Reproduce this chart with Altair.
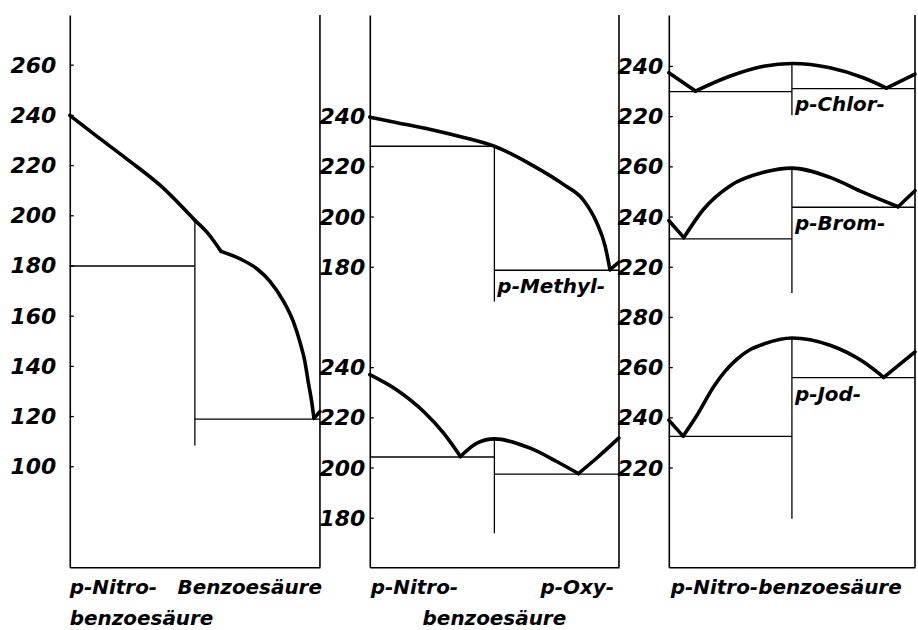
import altair as alt
import pandas as pd

# ---------------- values ----------------
# composition axis: 0 = p-Nitrobenzoesäure, 100 = second component; compound at 50
# Panel 1: p-Nitrobenzoesäure – Benzoesäure
benz_x = [0, 9.7, 23, 36.3, 50, 54.9, 60.5, 68.1, 74.8, 80.1, 85.4, 89.4, 92, 94, 95.3, 96.7, 97.6, 100]
benz_t = [240, 232.5, 222.5, 212, 198.2, 193.4, 185.8, 182.8, 178.9, 173.8, 166, 157.7, 149.7, 141.8, 133.9, 125.9, 119.3, 122]
benz_breaks = [50, 60.5, 97.6]
benz_levels = [180, 119]
benz_vertical = [198.2, 108.5]
benz_ticks = [100, 120, 140, 160, 180, 200, 220, 240, 260]

# Panel 2 top: p-Methyl-benzoesäure
methyl_x = [0, 11, 24.4, 37.7, 50, 64.4, 77.7, 85.7, 91, 94.4, 96.4, 100]
methyl_t = [239.8, 237.6, 234.9, 231.7, 228.2, 221.1, 213.0, 206.8, 197.9, 188.6, 179, 182]
methyl_breaks = [96.4]
methyl_levels = [228.2, 178.8]
methyl_vertical = [228.2, 166.3]
methyl_ticks = [180, 200, 220, 240]

# Panel 2 bottom: p-Oxy-benzoesäure
oxy_x = [0, 11, 21.7, 29.7, 36.4, 43, 50, 64.4, 75, 83.7, 91, 100]
oxy_t = [237.2, 231, 222.4, 213.8, 204.6, 209.9, 211.6, 207.9, 202.6, 197.8, 203.9, 212]
oxy_breaks = [36.4, 83.7]
oxy_levels = [204.4, 197.6]
oxy_vertical = [211.6, 174]
oxy_ticks = [180, 200, 220, 240]

# Panel 3: p-Chlor-, p-Brom-, p-Jod-benzoesäure
chlor_x = [0, 10.8, 25, 38.5, 50, 65.5, 79, 88.4, 100]
chlor_t = [237.5, 230.2, 236.2, 240.1, 241.2, 239.5, 235.5, 231.4, 236.9]
chlor_breaks = [10.8, 88.4]
chlor_levels = [230, 231.2]
chlor_vertical = [241.2, 220.6]
chlor_ticks = [220, 240]

brom_x = [0, 6.1, 14.2, 25, 38.5, 50, 65.5, 79, 93.1, 100]
brom_t = [238.6, 231.8, 243.2, 252.5, 257.8, 259.5, 255.8, 249.8, 244.1, 250.5]
brom_breaks = [6.1, 93.1]
brom_levels = [231.3, 243.9]
brom_vertical = [259.5, 209.7]
brom_ticks = [220, 240, 260]

jod_x = [0, 5.8, 11.5, 18.2, 22.9, 27.7, 33.1, 38.5, 50, 65.5, 79, 87.3, 100]
jod_t = [239.1, 232.7, 241.1, 252.4, 258.6, 263.4, 267.2, 269.4, 271.8, 268.9, 262.3, 256.1, 266.3]
jod_breaks = [5.8, 87.3]
jod_levels = [232.6, 256]
jod_vertical = [271.8, 199.8]
jod_ticks = [220, 240, 260, 280]

sub_names = {"methyl": "p-Methyl-", "chlor": "p-Chlor-", "brom": "p-Brom-", "jod": "p-Jod-"}

col1_labels = ["p-Nitro-", "benzoesäure", "Benzoesäure"]
col2_labels = ["p-Nitro-", "p-Oxy-", "benzoesäure"]
col3_labels = ["p-Nitro-benzoesäure"]

# ---------------- building ----------------
FONT = "DejaVu Sans"
H = 554
COMPOUND = 50


def system(name, xs, ts, breaks, levels, vertical, ticks, offset):
    return dict(name=name, x=xs, t=ts, breaks=breaks, levels=levels,
                vertical=vertical, ticks=ticks, offset=offset)


def curve_rows(s):
    rows = []
    for x, t in zip(s["x"], s["t"]):
        k = sum(1 for b in s["breaks"] if b < x)
        rows.append({"branch": f"{s['name']}-{k}", "x": x, "g": t + s["offset"]})
        if x in s["breaks"]:
            rows.append({"branch": f"{s['name']}-{k + 1}", "x": x, "g": t + s["offset"]})
    return rows


def segment_rows(s):
    o = s["offset"]
    lv, vt = s["levels"], s["vertical"]
    return [
        {"x": 0, "x2": COMPOUND, "g": lv[0] + o, "g2": lv[0] + o},
        {"x": COMPOUND, "x2": 100, "g": lv[1] + o, "g2": lv[1] + o},
        {"x": COMPOUND, "x2": COMPOUND, "g": vt[0] + o, "g2": vt[1] + o},
    ]


def label_expr(systems):
    parts = sorted(((min(s["ticks"]) + s["offset"] - 10, s["offset"])
                    for s in systems if s["offset"] > 0), reverse=False)
    expr = "format(datum.value, 'd')"
    for thr, off in parts:
        expr = f"datum.value > {thr} ? format(datum.value - {off}, 'd') : ({expr})"
    return expr


def column(systems, width, domain, label_pad, labels):
    curves = pd.DataFrame([r for s in systems for r in curve_rows(s)])
    segs = pd.DataFrame([r for s in systems for r in segment_rows(s)])
    ticks = pd.DataFrame({"g": [v + s["offset"] for s in systems for v in s["ticks"]]})

    xs = alt.X("x:Q", scale=alt.Scale(domain=[0, 100], nice=False, zero=False),
               axis=alt.Axis(labels=False, ticks=False, grid=False, title=None,
                             domainColor="black", domainWidth=1.6))
    ys = alt.Y("g:Q", scale=alt.Scale(domain=domain, nice=False, zero=False),
               axis=alt.Axis(values=list(ticks["g"]), labelExpr=label_expr(systems),
                             ticks=False, grid=False, title=None,
                             domainColor="black", domainWidth=1.6,
                             labelFont=FONT, labelFontSize=22, labelFontStyle="italic",
                             labelFontWeight="bold", labelColor="black",
                             labelPadding=label_pad, labelFlush=False, labelOverlap=False,
                             labelBound=False))

    layers = [
        alt.Chart(curves).mark_line(color="black", strokeWidth=3.6, interpolate="monotone",
                                    strokeCap="round", strokeJoin="round")
        .encode(x=xs, y=ys, detail="branch:N"),
        alt.Chart(segs).mark_rule(color="black", strokeWidth=1.3)
        .encode(x=xs, x2="x2:Q", y=ys, y2="g2:Q"),
        alt.Chart(ticks).mark_rule(color="black", strokeWidth=1.3)
        .encode(y=ys, x=alt.value(0), x2=alt.value(4)),
        alt.Chart(pd.DataFrame({"x": [100]})).mark_rule(color="black", strokeWidth=1.6)
        .encode(x=xs, y=alt.value(0), y2=alt.value(H)),
    ]

    subs = [{"x": COMPOUND, "g": s["levels"][1] + s["offset"], "text": sub_names[s["name"]]}
            for s in systems if s["name"] in sub_names]
    if subs:
        layers.append(
            alt.Chart(pd.DataFrame(subs)).mark_text(
                align="left", baseline="middle", dx=3, dy=17, font=FONT, fontSize=20,
                fontStyle="italic", fontWeight="bold", color="black")
            .encode(x=xs, y=ys, text="text:N"))

    for text, xpos, align, line, dx in labels:
        layers.append(
            alt.Chart(pd.DataFrame({"x": [xpos], "text": [text]})).mark_text(
                align=align, baseline="middle", dx=dx, font=FONT, fontSize=20,
                fontStyle="italic", fontWeight="bold", color="black")
            .encode(x=xs, y=alt.value(H + 21 + 31 * line), text="text:N"))

    return alt.layer(*layers).properties(width=width, height=H)


benz = system("benz", benz_x, benz_t, benz_breaks, benz_levels, benz_vertical, benz_ticks, 0)
methyl = system("methyl", methyl_x, methyl_t, methyl_breaks, methyl_levels, methyl_vertical, methyl_ticks, 100)
oxy = system("oxy", oxy_x, oxy_t, oxy_breaks, oxy_levels, oxy_vertical, oxy_ticks, 0)
chlor = system("chlor", chlor_x, chlor_t, chlor_breaks, chlor_levels, chlor_vertical, chlor_ticks, 140)
brom = system("brom", brom_x, brom_t, brom_breaks, brom_levels, brom_vertical, brom_ticks, 80)
jod = system("jod", jod_x, jod_t, jod_breaks, jod_levels, jod_vertical, jod_ticks, 0)

c1 = column([benz], 251, [60, 280], 14,
            [(col1_labels[0], 0, "left", 0, 0), (col1_labels[1], 0, "left", 1, 0),
             (col1_labels[2], 100, "right", 0, 2)])
c2 = column([methyl, oxy], 250, [160.5, 380.5], 5,
            [(col2_labels[0], 0, "left", 0, 1), (col2_labels[1], 100, "right", 0, -5),
             (col2_labels[2], 50, "center", 1, 0)])
c3 = column([chlor, brom, jod], 247, [180.5, 400.5], 6,
            [(col3_labels[0], 0, "left", 0, 2)])

chart = alt.hconcat(c1, c2, c3, spacing=50, bounds="flush").properties(
    padding={"left": 9, "top": 12, "right": 0, "bottom": 0},
    background="white",
).configure_view(stroke="transparent")

chart.save("out.html", embed_options={"renderer": "svg", "actions": False})
